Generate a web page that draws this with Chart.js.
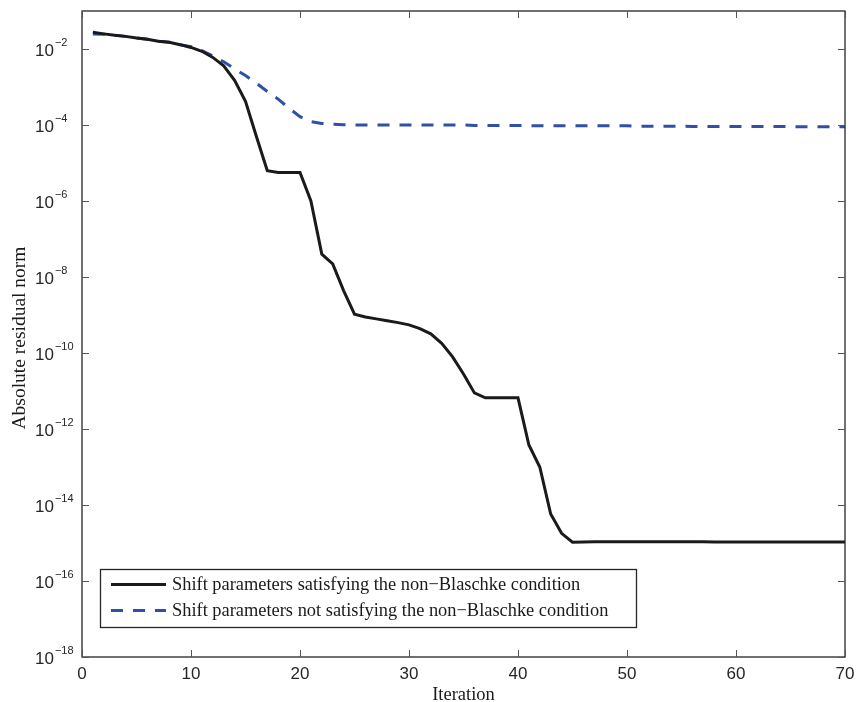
<!DOCTYPE html>
<html>
<head>
<meta charset="utf-8">
<script src="https://cdn.jsdelivr.net/npm/chart.js@4"></script>
<style>
  html, body { margin: 0; padding: 0; background: #fff; }
  #wrap { width: 856px; height: 702px; }
</style>
</head>
<body>
<div id="wrap"><canvas id="chart"></canvas></div>
<script>
// iteration numbers
const iterations = [
  1, 2, 3, 4, 5, 6, 7, 8, 9, 10,
  11, 12, 13, 14, 15, 16, 17, 18, 19, 20,
  21, 22, 23, 24, 25, 26, 27, 28, 29, 30,
  31, 32, 33, 34, 35, 36, 37, 38, 39, 40,
  41, 42, 43, 44, 45, 46, 47, 48, 49, 50,
  51, 52, 53, 54, 55, 56, 57, 58, 59, 60,
  61, 62, 63, 64, 65, 66, 67, 68, 69, 70
];

// residual norms
const blaschkeRes = [
  2.75e-2, 2.5e-2, 2.3e-2, 2.15e-2, 1.95e-2, 1.8e-2, 1.6e-2, 1.5e-2, 1.3e-2, 1.1e-2,
  8.7e-3, 6.0e-3, 3.6e-3, 1.5e-3, 4.2e-4, 5.0e-5, 6.3e-6, 5.6e-6, 5.6e-6, 5.6e-6,
  1.0e-6, 4.0e-8, 2.2e-8, 4.4e-9, 1.05e-9, 8.9e-10, 7.9e-10, 7.1e-10, 6.3e-10, 5.5e-10,
  4.4e-10, 3.2e-10, 1.8e-10, 7.9e-11, 2.8e-11, 8.9e-12, 6.6e-12, 6.6e-12, 6.6e-12, 6.6e-12,
  3.8e-13, 1.0e-13, 5.8e-15, 1.8e-15, 1.05e-15, 1.07e-15, 1.08e-15, 1.08e-15, 1.08e-15, 1.08e-15,
  1.08e-15, 1.08e-15, 1.08e-15, 1.08e-15, 1.08e-15, 1.08e-15, 1.08e-15, 1.07e-15, 1.07e-15, 1.07e-15,
  1.06e-15, 1.06e-15, 1.06e-15, 1.06e-15, 1.06e-15, 1.06e-15, 1.06e-15, 1.06e-15, 1.06e-15, 1.06e-15
];
const nonBlaschkeRes = [
  2.5e-2, 2.45e-2, 2.3e-2, 2.15e-2, 1.95e-2, 1.8e-2, 1.6e-2, 1.5e-2, 1.3e-2, 1.15e-2,
  9.1e-3, 6.6e-3, 4.6e-3, 3.0e-3, 2.0e-3, 1.26e-3, 7.6e-4, 4.8e-4, 2.75e-4, 1.66e-4,
  1.23e-4, 1.1e-4, 1.05e-4, 1.02e-4, 1.0e-4, 1.0e-4, 1.0e-4, 1.0e-4, 1.0e-4, 1.0e-4,
  1.0e-4, 1.0e-4, 1.0e-4, 1.0e-4, 1.0e-4, 9.7e-5, 9.7e-5, 9.7e-5, 9.7e-5, 9.7e-5,
  9.6e-5, 9.6e-5, 9.6e-5, 9.6e-5, 9.6e-5, 9.5e-5, 9.5e-5, 9.5e-5, 9.5e-5, 9.5e-5,
  9.3e-5, 9.3e-5, 9.3e-5, 9.3e-5, 9.3e-5, 9.2e-5, 9.2e-5, 9.2e-5, 9.2e-5, 9.2e-5,
  9.1e-5, 9.1e-5, 9.1e-5, 9.1e-5, 9.1e-5, 9.0e-5, 9.0e-5, 9.0e-5, 9.0e-5, 9.0e-5
];

const seriesLabels = [
  'Shift parameters satisfying the non\u2212Blaschke condition',
  'Shift parameters not satisfying the non\u2212Blaschke condition'
];
const xTicks = [0, 10, 20, 30, 40, 50, 60, 70];
const yTickExps = [-18, -16, -14, -12, -10, -8, -6, -4, -2];

const sans = '"Liberation Sans", Arial, sans-serif';
const serif = '"Liberation Serif", "Times New Roman", serif';
const axisColor = '#262626';

function toPoints(ys) {
  return iterations.map((x, i) => ({x: x, y: ys[i]}));
}

// MATLAB style box, inward ticks, superscript labels, legend
const matlabAxes = {
  id: 'matlabAxes',
  afterDraw(chart) {
    const ctx = chart.ctx;
    const a = chart.chartArea;
    const xs = chart.scales.x, ys = chart.scales.y;
    const tl = 7;
    ctx.save();
    ctx.strokeStyle = axisColor;
    ctx.lineWidth = 1.3;
    ctx.strokeRect(a.left, a.top, a.right - a.left, a.bottom - a.top);

    ctx.lineWidth = 1;
    ctx.strokeStyle = '#555';
    ctx.beginPath();
    xTicks.forEach(v => {
      const px = Math.round(xs.getPixelForValue(v)) + 0.5;
      ctx.moveTo(px, a.bottom); ctx.lineTo(px, a.bottom - tl);
      ctx.moveTo(px, a.top); ctx.lineTo(px, a.top + tl);
    });
    yTickExps.forEach(e => {
      const py = Math.round(ys.getPixelForValue(Math.pow(10, e))) + 0.5;
      ctx.moveTo(a.left, py); ctx.lineTo(a.left + tl, py);
      ctx.moveTo(a.right, py); ctx.lineTo(a.right - tl, py);
    });
    ctx.stroke();

    // tick labels
    ctx.fillStyle = axisColor;
    ctx.font = '17px ' + sans;
    ctx.textAlign = 'center';
    ctx.textBaseline = 'alphabetic';
    xTicks.forEach(v => {
      ctx.fillText(String(v), xs.getPixelForValue(v), 679);
    });
    ctx.textAlign = 'left';
    yTickExps.forEach(e => {
      const py = ys.getPixelForValue(Math.pow(10, e));
      ctx.font = '17px ' + sans;
      ctx.fillText('10', 35, py + 7);
      const w = ctx.measureText('10').width;
      ctx.font = '11px ' + sans;
      ctx.fillText('\u2212' + Math.abs(e), 35 + w + 1, py - 3);
    });

    // axis titles
    ctx.fillStyle = '#1a1a1a';
    ctx.textAlign = 'center';
    ctx.font = '18.5px ' + serif;
    ctx.fillText('Iteration', (a.left + a.right) / 2, 700);
    ctx.save();
    ctx.font = '19.5px ' + serif;
    ctx.translate(25, 338);
    ctx.rotate(-Math.PI / 2);
    ctx.fillText('Absolute residual norm', 0, 0);
    ctx.restore();

    // legend
    const lx = 100, ly = 569, lw = 536, lh = 58;
    ctx.fillStyle = '#fff';
    ctx.fillRect(lx, ly, lw, lh);
    ctx.strokeStyle = axisColor;
    ctx.lineWidth = 1.3;
    ctx.strokeRect(lx + 0.5, ly + 0.5, lw, lh);
    chart.data.datasets.forEach((ds, i) => {
      const yy = 584.5 + i * 26;
      ctx.strokeStyle = ds.borderColor;
      ctx.lineWidth = ds.borderWidth;
      ctx.setLineDash(ds.borderDash || []);
      ctx.beginPath();
      ctx.moveTo(111, yy); ctx.lineTo(166, yy);
      ctx.stroke();
      ctx.setLineDash([]);
      ctx.fillStyle = '#1a1a1a';
      ctx.font = '18.4px ' + serif;
      ctx.textAlign = 'left';
      ctx.textBaseline = 'middle';
      ctx.fillText(ds.label, 172, yy + 1);
    });
    ctx.restore();
  }
};

const ctx = document.getElementById('chart').getContext('2d');
const myChart = new Chart(ctx, {
  type: 'line',
  data: {
    datasets: [{
      label: seriesLabels[0],
      data: toPoints(blaschkeRes),
      borderColor: '#1a1a1a',
      borderWidth: 3,
      pointRadius: 0,
      tension: 0
    }, {
      label: seriesLabels[1],
      data: toPoints(nonBlaschkeRes),
      borderColor: '#3050a8',
      borderWidth: 3,
      borderDash: [12, 10],
      pointRadius: 0,
      tension: 0
    }]
  },
  options: {
    responsive: true,
    maintainAspectRatio: false,
    animation: false,
    layout: { padding: { left: 82, top: 11, right: 11, bottom: 45 } },
    plugins: { legend: { display: false }, tooltip: { enabled: false } },
    scales: {
      x: { type: 'linear', min: 0, max: 70, display: false },
      y: { type: 'logarithmic', min: 1e-18, max: 1e-1, display: false }
    }
  },
  plugins: [matlabAxes]
});
</script>
</body>
</html>
